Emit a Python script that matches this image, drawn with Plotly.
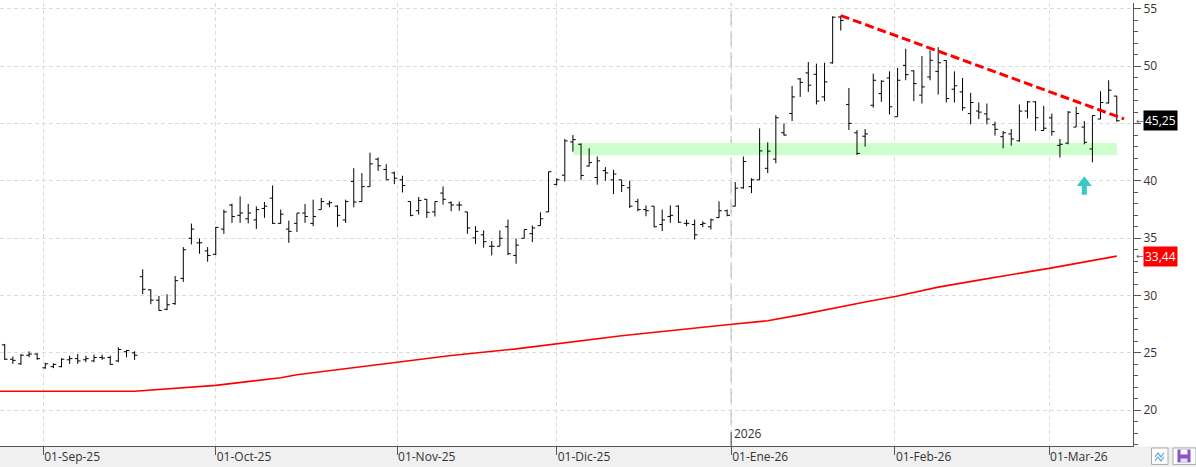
import numpy as np
import pandas as pd
import plotly.graph_objects as go

# ---------------- data ----------------
holidays = ['2025-09-01', '2025-11-27', '2025-12-25', '2026-01-01', '2026-01-19', '2026-02-16']
dates = pd.bdate_range('2025-08-25', '2026-03-12', freq='C', holidays=holidays)

open_ = [25.70, 24.45, 24.05, 24.80, 24.90, 23.70, 23.80, 23.80, 24.40, 24.50, 24.40, 24.30, 24.60, 24.60, 24.30, 25.10, 25.00,
         31.65, 30.50, 29.60, 28.80, 29.30, 31.50, 35.00, 34.60, 33.90, 33.60, 35.80, 37.90, 37.00, 36.70, 36.60, 37.60,
         38.50, 36.30, 35.80, 36.30, 37.20, 36.30, 37.50, 38.00, 37.80, 36.60, 39.95, 38.20, 39.50, 41.90, 41.00, 40.70,
         40.10, 38.20, 37.40, 38.40, 37.30, 38.94, 38.10, 37.90, 37.30, 35.03, 35.30, 34.30, 34.30, 36.00, 33.50, 35.00,
         35.40, 36.10, 37.30, 39.70, 40.50, 43.40, 43.20, 41.30, 40.30, 40.90, 40.10, 40.10, 39.40, 38.20, 37.50, 37.80,
         36.20, 36.90, 37.80, 36.30, 36.20, 36.20, 36.00, 36.80, 37.40, 37.80, 39.40, 39.50, 40.10, 41.10, 41.90, 44.20,
         45.88, 48.90, 49.42, 49.30, 47.33, 50.30, 54.30, 46.67, 44.20, 43.90, 46.60, 47.62, 48.98, 45.60, 50.08, 49.60,
         47.48, 49.07, 49.56, 50.50, 48.00, 47.77, 45.88, 46.10, 45.85, 44.90, 43.86, 44.10, 43.50, 46.10, 46.90, 44.40,
         45.50, 43.10, 43.30, 44.70, 44.70, 42.79, 45.40, 46.80, 47.40]
high = [25.78, 24.68, 24.91, 25.14, 24.97, 24.15, 24.10, 24.53, 24.76, 24.91, 24.76, 24.85, 24.85, 24.76, 25.49, 25.26, 25.14,
        32.29, 30.55, 29.97, 30.12, 31.71, 34.23, 36.28, 34.98, 34.23, 35.99, 37.50, 38.02, 38.65, 38.00, 37.78, 38.16,
        39.61, 37.50, 36.54, 37.20, 37.99, 38.37, 38.51, 38.28, 37.87, 38.37, 41.11, 40.68, 42.47, 42.04, 41.46, 40.82,
        40.45, 38.20, 38.60, 38.42, 38.20, 39.52, 38.22, 38.20, 37.30, 36.05, 35.68, 34.75, 35.68, 36.63, 34.98, 35.76,
        36.11, 37.26, 40.82, 40.24, 43.66, 44.01, 43.28, 42.85, 42.13, 41.20, 40.97, 40.10, 40.02, 38.45, 37.87, 37.80,
        37.50, 37.87, 37.87, 36.63, 36.63, 36.48, 36.72, 38.22, 37.50, 39.90, 42.13, 40.24, 44.58, 43.37, 45.74, 45.02,
        48.29, 48.98, 50.37, 50.23, 50.31, 54.36, 54.42, 48.11, 44.44, 44.53, 49.36, 48.78, 49.56, 49.85, 51.53, 49.65,
        50.89, 51.39, 51.67, 50.52, 49.56, 48.98, 47.68, 46.84, 46.75, 45.16, 44.36, 44.53, 46.67, 46.96, 46.96, 46.55,
        45.88, 43.66, 46.09, 46.47, 45.22, 45.74, 47.83, 48.78, 47.42]
low = [24.39, 24.04, 23.95, 24.62, 24.39, 23.61, 23.67, 23.75, 24.04, 24.04, 24.19, 24.19, 24.39, 23.95, 24.19, 24.62, 24.39,
       30.12, 29.25, 28.67, 28.73, 29.19, 31.19, 34.46, 33.65, 32.95, 33.53, 35.38, 36.34, 36.34, 36.30, 35.82, 36.78,
       36.25, 36.25, 34.60, 35.55, 36.34, 36.05, 37.50, 37.70, 35.99, 36.34, 37.70, 38.20, 39.50, 40.88, 40.10, 39.72,
       38.99, 36.92, 37.06, 36.77, 36.90, 37.93, 37.35, 37.40, 35.38, 34.51, 34.17, 33.50, 34.30, 33.53, 32.78, 35.00,
       34.66, 36.10, 37.29, 39.61, 39.95, 42.56, 40.10, 41.26, 39.67, 40.02, 38.85, 39.03, 37.64, 37.35, 36.92, 35.96,
       35.62, 36.34, 36.34, 36.05, 34.89, 35.96, 35.76, 36.77, 36.92, 37.78, 39.32, 38.94, 40.10, 40.68, 41.54, 43.95,
       45.22, 47.33, 47.77, 46.67, 46.96, 50.23, 53.12, 44.44, 42.27, 42.99, 46.38, 46.90, 45.80, 45.60, 48.78, 46.96,
       46.75, 48.78, 47.53, 46.84, 46.84, 46.12, 44.93, 45.39, 44.93, 43.95, 42.85, 43.08, 43.43, 45.45, 44.36, 44.36,
       43.95, 42.04, 43.20, 44.70, 43.20, 41.63, 45.39, 46.75, 45.16]
close = [24.45, 24.35, 24.80, 24.90, 24.50, 24.05, 24.00, 24.45, 24.50, 24.30, 24.50, 24.60, 24.55, 24.00, 25.30, 25.20, 24.80,
         30.55, 29.60, 28.70, 29.20, 31.30, 34.00, 35.80, 34.60, 33.50, 35.95, 37.30, 36.90, 37.20, 37.20, 37.50, 37.80,
         36.30, 37.10, 35.60, 37.20, 36.90, 36.90, 38.20, 38.10, 37.00, 38.20, 38.16, 39.50, 41.49, 41.32, 40.10, 40.24,
         39.60, 37.00, 38.30, 37.26, 38.20, 38.40, 37.90, 37.90, 35.90, 35.60, 34.70, 34.30, 35.00, 33.65, 34.40, 35.76,
         35.90, 36.70, 40.80, 40.10, 43.49, 43.60, 40.48, 41.60, 41.75, 40.70, 40.60, 39.60, 37.80, 37.50, 37.40, 36.00,
         36.60, 37.00, 36.40, 36.30, 35.30, 36.30, 36.60, 37.40, 37.00, 39.37, 41.69, 40.10, 42.62, 42.60, 45.51, 44.00,
         47.33, 48.60, 48.35, 46.96, 48.64, 54.28, 54.00, 45.02, 42.40, 44.10, 48.78, 48.70, 46.47, 48.78, 49.27, 48.49,
         48.20, 50.52, 50.31, 47.19, 48.30, 46.38, 46.84, 46.00, 45.40, 44.50, 44.20, 43.66, 46.09, 46.90, 45.51, 44.60,
         44.30, 43.20, 46.00, 45.88, 43.37, 45.70, 46.84, 47.92, 45.25]

# moving average (bar index, value)
ma_idx = [-1, 16, 26, 34, 36, 48, 55, 63, 68, 76, 89, 94, 98, 102, 106, 110, 115, 120, 129, 137]
ma_val = [21.65, 21.65, 22.17, 22.83, 23.09, 24.19, 24.77, 25.35, 25.78, 26.50, 27.45, 27.80, 28.32, 28.90,
          29.44, 29.96, 30.74, 31.35, 32.42, 33.44]

# drawn objects
trend_x = [103, 137.9]
trend_y = [54.42, 45.41]
zone_x = [70, 137]
zone_y = [42.24, 43.30]
signal_x = [133]
signal_head_y = [39.84]
signal_tail_y = [39.28]

month_starts = ['2025-09-01', '2025-10-01', '2025-11-01', '2025-12-01', '2026-01-01', '2026-02-01', '2026-03-01']
month_labels = ['01-Sep-25', '01-Oct-25', '01-Nov-25', '01-Dic-25', '01-Ene-26', '01-Feb-26', '01-Mar-26']
price_ticks = [20, 25, 30, 35, 40, 45, 50, 55]
price_tick_text = ['20', '25', '30', '35', '40', '', '50', '55']   # 45 sits under the last-price box
year_label = '2026'
last_label = '45,25'
ma_label = '33,44'

# ---------------- geometry helpers ----------------
idx = np.arange(len(dates))
d_days = dates.values.astype('datetime64[D]').astype(np.int64)
m_days = pd.to_datetime(month_starts).values.astype('datetime64[D]').astype(np.int64)
tick_pos = np.interp(m_days, d_days, idx)
jan_pos = float(tick_pos[4])

PW, PH = 1133.0, 446.0
def px(x):
    return x / PW
def py(y):
    return (PH - y) / PH

FONT = 'Open Sans'
AX = '#555555'
GRID = '#dcdcdc'

fig = go.Figure()
fig.add_trace(go.Ohlc(
    x=idx, open=open_, high=high, low=low, close=close,
    increasing=dict(line=dict(color='black', width=1)),
    decreasing=dict(line=dict(color='black', width=1)),
    line=dict(width=1), tickwidth=0.35, hoverinfo='skip', showlegend=False))
fig.add_trace(go.Scatter(x=ma_idx, y=ma_val, mode='lines',
                         line=dict(color='#ff0000', width=1.6), hoverinfo='skip', showlegend=False))
fig.add_trace(go.Scatter(x=signal_x, y=signal_head_y, mode='markers',
                         marker=dict(symbol='triangle-up', size=13, color='#38c8c8', line=dict(width=0)),
                         hoverinfo='skip', showlegend=False))
fig.add_trace(go.Scatter(x=signal_x, y=signal_tail_y, mode='markers',
                         marker=dict(symbol='line-ns', size=8, color='#38c8c8', line=dict(width=5, color='#38c8c8')),
                         hoverinfo='skip', showlegend=False))

shapes = [
    # green support zone
    dict(type='rect', xref='x', yref='y', x0=zone_x[0], x1=zone_x[1], y0=zone_y[0], y1=zone_y[1],
         fillcolor='#ccffcc', line=dict(width=0), layer='between'),
    # year separator
    dict(type='line', xref='x', yref='paper', x0=jan_pos, x1=jan_pos, y0=0, y1=1,
         line=dict(color='#c4c4c4', width=1.5, dash='16px,5px'), layer='between'),
    dict(type='line', xref='x', yref='paper', x0=jan_pos, x1=jan_pos, y0=0, y1=py(432),
         line=dict(color=AX, width=1)),
    # trend line
    dict(type='line', xref='x', yref='y', x0=trend_x[0], x1=trend_x[1], y0=trend_y[0], y1=trend_y[1],
         line=dict(color='#ff0000', width=3, dash='9px,4px')),
    # bottom grey band
    dict(type='rect', xref='paper', yref='paper', x0=px(-2), x1=px(1198), y0=py(470), y1=py(446.5),
         fillcolor='#f0f0f0', line=dict(width=0), layer='below'),
    # icons
    dict(type='rect', xref='paper', yref='paper', x0=px(1151.5), x1=px(1168), y0=py(464.5), y1=py(448),
         fillcolor='white', line=dict(color='#a8a8a8', width=1)),
    dict(type='path', xref='paper', yref='paper',
         path=f'M{px(1155)},{py(457)} L{px(1158)},{py(453)} L{px(1161)},{py(457)} L{px(1164)},{py(453)}',
         line=dict(color='#6aa6dc', width=1.2)),
    dict(type='path', xref='paper', yref='paper',
         path=f'M{px(1155)},{py(461)} L{px(1158)},{py(457)} L{px(1161)},{py(461)} L{px(1164)},{py(457)}',
         line=dict(color='#6aa6dc', width=1.2)),
    dict(type='rect', xref='paper', yref='paper', x0=px(1173), x1=px(1196), y0=py(464.5), y1=py(448),
         fillcolor='white', line=dict(color='#a8a8a8', width=1)),
    dict(type='rect', xref='paper', yref='paper', x0=px(1177.5), x1=px(1190.5), y0=py(462.5), y1=py(449.5),
         fillcolor='#8a52c8', line=dict(width=0)),
    dict(type='rect', xref='paper', yref='paper', x0=px(1180.5), x1=px(1187.5), y0=py(454.5), y1=py(449.5),
         fillcolor='white', line=dict(width=0)),
    dict(type='rect', xref='paper', yref='paper', x0=px(1180.5), x1=px(1187.5), y0=py(462.5), y1=py(458.5),
         fillcolor='#e6dcf5', line=dict(width=0)),
]

annotations = [
    dict(xref='x', yref='paper', x=jan_pos, y=py(444), xanchor='left', yanchor='bottom', xshift=1,
         text=year_label, showarrow=False, font=dict(family=FONT, size=12, color='#333333')),
    dict(xref='paper', yref='y', x=px(1143), y=close[-1], xanchor='left', yanchor='middle',
         text=last_label, showarrow=False, bgcolor='black', borderpad=1,
         font=dict(family=FONT, size=12, color='white')),
    dict(xref='paper', yref='y', x=px(1143), y=ma_val[-1], xanchor='left', yanchor='middle',
         text=ma_label, showarrow=False, bgcolor='#ff0000', borderpad=1,
         font=dict(family=FONT, size=12, color='white')),
    dict(xref='paper', yref='y', x=px(1133.5), y=close[-1], xanchor='left', yanchor='middle',
         text='←', showarrow=False, font=dict(family='DejaVu Sans', size=9, color='#666666')),
    dict(xref='paper', yref='y', x=px(1133.5), y=ma_val[-1], xanchor='left', yanchor='middle',
         text='←', showarrow=False, font=dict(family='DejaVu Sans', size=9, color='#666666')),
]

fig.update_layout(
    width=1196, height=467,
    margin=dict(l=0, r=63, t=0, b=21, pad=0),
    paper_bgcolor='white', plot_bgcolor='white',
    font=dict(family=FONT, size=12, color='#333333'),
    showlegend=False, hovermode=False,
    shapes=shapes, annotations=annotations,
    xaxis=dict(
        range=[-0.58, 139.0], rangeslider=dict(visible=False),
        tickmode='array', tickvals=tick_pos, ticktext=month_labels,
        ticklabelposition='outside right',
        showgrid=True, gridcolor=GRID, griddash='4px,3px', gridwidth=1,
        showline=True, linecolor=AX, linewidth=1,
        ticks='outside', ticklen=8, tickcolor=AX, tickwidth=1,
        tickfont=dict(family=FONT, size=12, color='#333333'),
        zeroline=False, fixedrange=True),
    yaxis=dict(
        side='right', range=[16.88, 55.52], tickmode='array',
        tickvals=price_ticks, ticktext=price_tick_text, ticklabeloverflow='allow',
        showgrid=True, gridcolor=GRID, griddash='4px,3px', gridwidth=1,
        showline=True, linecolor=AX, linewidth=1,
        ticks='outside', ticklen=7, tickcolor=AX, tickwidth=1,
        minor=dict(dtick=1, tick0=0, ticks='outside', ticklen=4, tickcolor=AX, tickwidth=1, showgrid=False),
        tickfont=dict(family=FONT, size=12, color='#333333'),
        zeroline=False, fixedrange=True),
)

fig.write_html("out.html", config={'displayModeBar': False},
               post_script="document.body.style.margin='0';")
